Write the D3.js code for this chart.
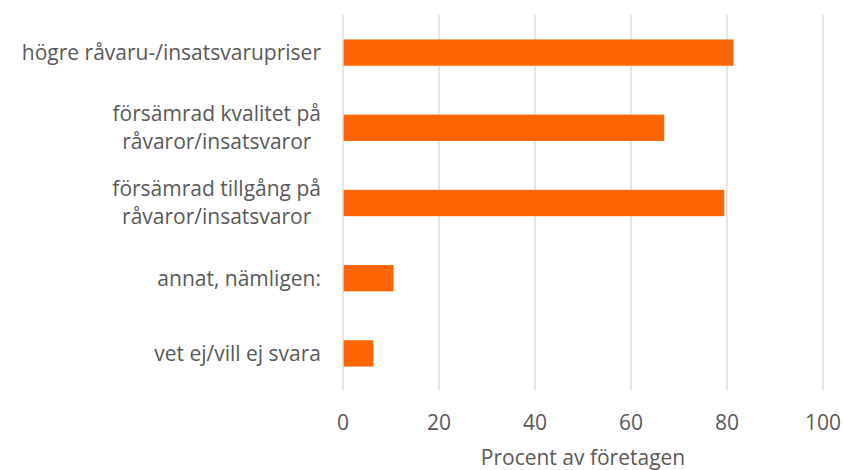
<!DOCTYPE html>
<html>
<head>
<meta charset="utf-8">
<script src="https://cdn.jsdelivr.net/npm/d3@7"></script>
<style>
  body { margin: 0; background: #fff; }
  text { font-family: "Open Sans", sans-serif; fill: #595959; }
</style>
</head>
<body>
<script>
let width = 843,
    height = 470;

// Data
const categories = [
    ["högre råvaru-/insatsvarupriser"],
    ["försämrad kvalitet på", "råvaror/insatsvaror"],
    ["försämrad tillgång på", "råvaror/insatsvaror"],
    ["annat, nämligen:"],
    ["vet ej/vill ej svara"]
];
const values = [81.2, 66.8, 79.3, 10.4, 6.2];
const ticks = [0, 20, 40, 60, 80, 100];
const axisTitle = "Procent av företagen";

const margin = {top: 15, right: 20, bottom: 79, left: 343};
const fontSize = 21;

const x = d3.scaleLinear()
    .domain([0, 100])
    .range([margin.left, width - margin.right]);

const y = d3.scaleBand()
    .domain(d3.range(categories.length))
    .range([margin.top, height - margin.bottom])
    .paddingInner(0.65)
    .paddingOuter(0.325);

const svg = d3.select("body").append("svg")
    .attr("width", width)
    .attr("height", height);

// Gridlines
svg.append("g")
    .selectAll("line")
    .data(ticks)
    .enter().append("line")
    .attr("x1", d => x(d))
    .attr("x2", d => x(d))
    .attr("y1", margin.top)
    .attr("y2", height - margin.bottom)
    .attr("stroke", "#d9d9d9")
    .attr("stroke-width", 1.3);

// Bars
svg.append("g")
    .selectAll("rect")
    .data(values)
    .enter().append("rect")
    .attr("x", x(0) + 0.6)
    .attr("y", (d, i) => y(i))
    .attr("width", d => x(d) - x(0))
    .attr("height", y.bandwidth())
    .attr("fill", "#ff6600");

// X tick labels
svg.append("g")
    .selectAll("text")
    .data(ticks)
    .enter().append("text")
    .attr("x", d => x(d))
    .attr("y", 430)
    .attr("text-anchor", "middle")
    .style("font-size", fontSize + "px")
    .text(d => d);

// Axis title
svg.append("text")
    .attr("x", (x(0) + x(100)) / 2)
    .attr("y", 465)
    .attr("text-anchor", "middle")
    .style("font-size", fontSize + "px")
    .text(axisTitle);

// Category labels (multi-line ones are centred in their block, block right-aligned)
const labelRight = 321,
    lineHeight = 28;

const labels = svg.append("g")
    .selectAll("text")
    .data(categories)
    .enter().append("text")
    .style("font-size", fontSize + "px")
    .attr("text-anchor", "middle");

labels.each(function (lines, i) {
    const t = d3.select(this);
    const cy = y(i) + y.bandwidth() / 2;
    lines.forEach((line, j) => {
        t.append("tspan")
            .attr("y", cy + (j - (lines.length - 1) / 2) * lineHeight)
            .attr("dy", "0.35em")
            .text(line);
    });
    let maxW = 0;
    t.selectAll("tspan").each(function () {
        maxW = Math.max(maxW, this.getComputedTextLength());
    });
    t.selectAll("tspan").attr("x", labelRight - maxW / 2);
});
</script>
</body>
</html>
